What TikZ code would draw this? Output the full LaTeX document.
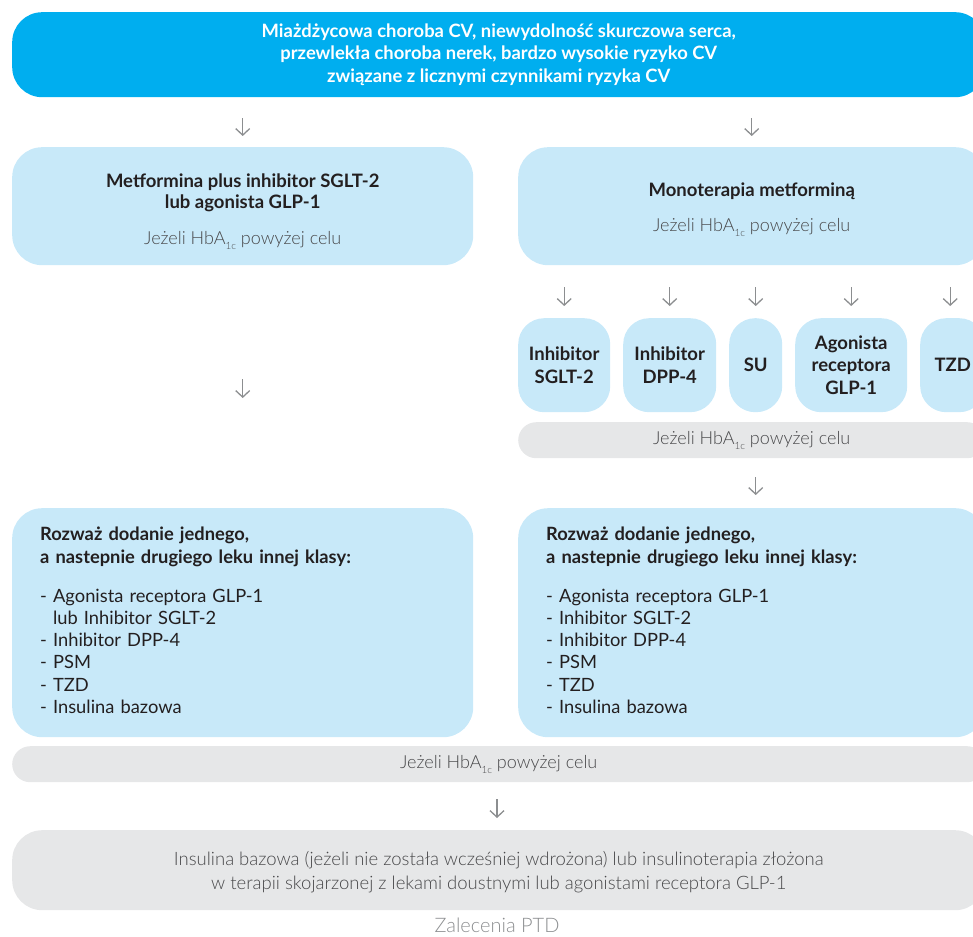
\documentclass[tikz,border=0pt]{standalone}
\usepackage{fontspec}
\setmainfont{Lato}[BoldFont={Lato Bold}]
\newfontfamily\latolight{Lato Light}
\usetikzlibrary{arrows.meta,positioning}
\definecolor{cvblue}{HTML}{00AEEF}
\definecolor{paleblue}{HTML}{C8E9F9}
\definecolor{palegray}{HTML}{E6E7E8}
\definecolor{arrowgray}{HTML}{8C8E90}
\definecolor{textgray}{HTML}{48484A}
\definecolor{inkblack}{HTML}{231F20}
\newcommand{\hbaline}{Jeżeli HbA\raisebox{-0.55ex}{\fontsize{10}{10}\selectfont 1c} powyżej celu}
\newcommand{\jezfont}{\latolight\mdseries\fontsize{18}{20}\selectfont\color{textgray}}

\begin{document}
\begin{tikzpicture}[x=1pt,y=-1pt,
  every node/.style={inner sep=0pt,anchor=north west},
  topbox/.style={fill=cvblue,rounded corners=30pt,text=white,align=center,
    font=\bfseries\fontsize{18.4}{22.5}\selectfont},
  bluebox/.style={fill=paleblue,rounded corners=30pt,text=inkblack,align=center,
    font=\bfseries\fontsize{18.5}{21}\selectfont},
  drugbox/.style={fill=paleblue,rounded corners=26pt,text=inkblack,align=center,
    minimum height=94pt,font=\bfseries\fontsize{18.5}{22.5}\selectfont},
  listbox/.style={fill=paleblue,rounded corners=30pt,text=inkblack,align=left,
    inner xsep=28pt,text width=405pt,minimum height=229pt,
    font=\fontsize{18.3}{22.2}\selectfont},
  graybar/.style={fill=palegray,rounded corners=18pt,minimum height=36pt,
    align=center,font=\jezfont},
  arr/.style={draw=arrowgray,line width=1.3pt,-{Straight Barb[length=6.5pt,width=14pt]}}]
  \clip (0,0) rectangle (973,936);
  \useasboundingbox (0,0) rectangle (973,936);
  \node[topbox,minimum width=973pt,minimum height=85pt] (top) at (12,12)
    {Miażdżycowa choroba CV, niewydolność skurczowa serca,\\
     przewlekła choroba nerek, bardzo wysokie ryzyko CV\\
     związane z licznymi czynnikami ryzyka CV};
  % first step
  \node[bluebox,minimum width=461pt,minimum height=118pt] (metsg) at (12,147)
    {\rule{0pt}{24pt}Metformina plus inhibitor SGLT-2\\lub agonista GLP-1\\[15pt]{\jezfont\hbaline}};
  \node[bluebox,minimum width=467pt,minimum height=118pt] (mono) at (518,147)
    {\rule{0pt}{20pt}Monoterapia metforminą\\[14pt]{\jezfont\hbaline}};
  % second drug
  \node[drugbox,minimum width=92pt] (sglt) at (518,318) {Inhibitor\\SGLT-2};
  \node[drugbox,minimum width=93pt] (dpp) at (623,318) {Inhibitor\\DPP-4};
  \node[drugbox,minimum width=53pt] (su) at (729,318) {SU};
  \node[drugbox,minimum width=112pt] (glp) at (795,318) {Agonista\\receptora\\GLP-1};
  \node[drugbox,minimum width=65pt,text width=65pt] (tzd) at (920,318) {TZD};
  \node[graybar,minimum width=467pt] (hbr) at (518,422) {\hbaline};
  % third drug
  \node[listbox] (addl) at (12,508)
    {\textbf{Rozważ dodanie jednego,}\\
     \textbf{a nastepnie drugiego leku innej klasy:}\\[17pt]
     - Agonista receptora GLP-1\\
     \phantom{- }lub Inhibitor SGLT-2\\
     - Inhibitor DPP-4\\
     - PSM\\
     - TZD\\
     - Insulina bazowa\rule[-5pt]{0pt}{1pt}};
  \node[listbox,text width=411pt] (addr) at (518,508)
    {\textbf{Rozważ dodanie jednego,}\\
     \textbf{a nastepnie drugiego leku innej klasy:}\\[17pt]
     - Agonista receptora GLP-1\\
     - Inhibitor SGLT-2\\
     - Inhibitor DPP-4\\
     - PSM\\
     - TZD\\
     - Insulina bazowa\rule[-5pt]{0pt}{1pt}};
  \node[graybar,minimum width=973pt] (hbb) at (12,746) {\hbaline};
  % insulin
  \node[fill=palegray,rounded corners=30pt,minimum width=973pt,minimum height=80pt,
    align=center,font=\latolight\fontsize{18.5}{24}\selectfont,text=textgray] (ins) at (12,830)
    {\rule{0pt}{18pt}Insulina bazowa (jeżeli nie została wcześniej wdrożona) lub insulinoterapia złożona\\
     w terapii skojarzonej z lekami doustnymi lub agonistami receptora GLP-1};
  \node[anchor=center,font=\latolight\fontsize{20}{24}\selectfont,text=arrowgray] (src) at (497,925)
    {Zalecenia PTD};
  % arrows
  \draw[arr,shorten <=21pt,shorten >=11pt] (top.south -| metsg.north) -- (metsg.north);
  \draw[arr,shorten <=21pt,shorten >=11pt] (top.south -| mono.north) -- (mono.north);
  \draw[arr,shorten <=114pt,shorten >=110pt] (metsg.south) -- (addl.north);
  \foreach \d in {sglt,dpp,su,glp}
    \draw[arr,shorten <=22pt,shorten >=12pt] (mono.south -| \d.north) -- (\d.north);
  \draw[arr,shorten <=22pt,shorten >=12pt] ([xshift=-2.5pt]mono.south -| tzd.north) -- ([xshift=-2.5pt]tzd.north);
  \draw[arr,shorten <=19pt,shorten >=13pt] (hbr.south -| su.south) -- (addr.north -| su.south);
  \draw[arr,shorten <=17pt,shorten >=12pt] (hbb.south -| src) -- (ins.north -| src);
\end{tikzpicture}
\end{document}
